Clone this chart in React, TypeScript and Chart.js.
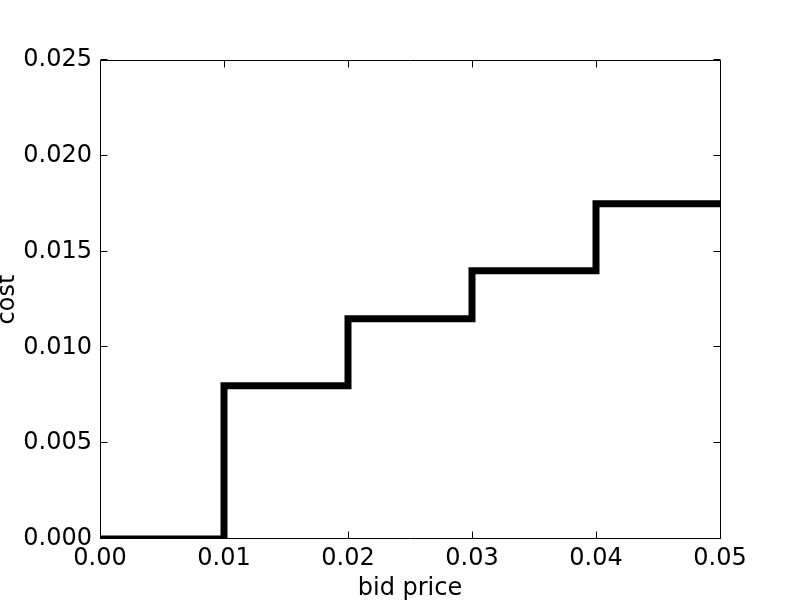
import React, { useEffect, useRef } from "react";
import { Chart, registerables } from "chart.js";
Chart.register(...registerables);

const bidPrices = [0, 0.01, 0.02, 0.03, 0.04, 0.05];
const costs = [0, 0.008, 0.0115, 0.014, 0.0175, 0.0175];
const xTicks = [0, 0.01, 0.02, 0.03, 0.04, 0.05];
const yTicks = [0, 0.005, 0.01, 0.015, 0.02, 0.025];
const xTitle = "bid price";
const yTitle = "cost";

const FONT = "'DejaVu Sans', sans-serif";
const TICK_LEN = 7;

const frameTicks = {
  id: "frameTicks",
  afterDatasetsDraw(chart: any) {
    const { ctx, chartArea, scales } = chart;
    const { left, right, top, bottom } = chartArea;
    const L = Math.round(left) + 0.5;
    const R = Math.round(right) + 0.5;
    const T = Math.round(top) + 0.5;
    const B = Math.round(bottom) - 0.5;
    ctx.save();
    ctx.strokeStyle = "#000";
    ctx.lineWidth = 1;
    ctx.beginPath();
    ctx.rect(L, T, R - L, B - T);
    for (const v of xTicks) {
      const px = Math.round(scales.x.getPixelForValue(v)) + 0.5;
      ctx.moveTo(px, B);
      ctx.lineTo(px, B - TICK_LEN);
      ctx.moveTo(px, T);
      ctx.lineTo(px, T + TICK_LEN);
    }
    for (const v of yTicks) {
      const py = Math.round(scales.y.getPixelForValue(v)) - 0.5;
      ctx.moveTo(L, py);
      ctx.lineTo(L + TICK_LEN, py);
      ctx.moveTo(R, py);
      ctx.lineTo(R - TICK_LEN, py);
    }
    ctx.stroke();
    ctx.restore();
  },
};

export default function App() {
  const ref = useRef<HTMLCanvasElement>(null);
  useEffect(() => {
    if (!ref.current) return;
    const chart = new Chart(ref.current, {
      type: "line",
      data: {
        datasets: [
          {
            data: bidPrices.map((x, i) => ({ x, y: costs[i] })),
            stepped: "before",
            borderColor: "#000",
            borderWidth: 7,
            pointRadius: 0,
            fill: false,
            clip: 0,
          } as any,
        ],
      },
      options: {
        responsive: false,
        animation: false,
        layout: { padding: { top: 60, right: 80, left: 0, bottom: 0 } },
        plugins: { legend: { display: false }, tooltip: { enabled: false } },
        scales: {
          x: {
            type: "linear",
            min: 0,
            max: 0.05,
            afterBuildTicks: (s: any) => {
              s.ticks = xTicks.map((v) => ({ value: v }));
            },
            afterFit: (s: any) => {
              s.height = 61;
            },
            grid: { display: false, drawTicks: false },
            border: { display: false },
            ticks: {
              color: "#000",
              font: { family: FONT, size: 24 },
              padding: 5,
              maxRotation: 0,
              autoSkip: false,
              callback: (v: any) => Number(v).toFixed(2),
            },
            title: {
              display: true,
              text: xTitle,
              color: "#000",
              font: { family: FONT, size: 24, lineHeight: 1 },
              padding: { top: 0, bottom: -1 },
            },
          },
          y: {
            type: "linear",
            min: 0,
            max: 0.025,
            afterBuildTicks: (s: any) => {
              s.ticks = yTicks.map((v) => ({ value: v }));
            },
            afterFit: (s: any) => {
              s.width = 100;
            },
            grid: { display: false, drawTicks: false },
            border: { display: false },
            ticks: {
              color: "#000",
              font: { family: FONT, size: 24 },
              padding: 8,
              autoSkip: false,
              callback: (v: any) => Number(v).toFixed(3),
            },
            title: {
              display: true,
              text: yTitle,
              color: "#000",
              font: { family: FONT, size: 24, lineHeight: 1 },
              padding: { top: -4, bottom: 0 },
            },
          },
        },
      },
      plugins: [frameTicks],
    });
    return () => chart.destroy();
  }, []);
  return (
    <div style={{ position: "absolute", left: 0, top: 0, width: 800, height: 600, background: "#fff" }}>
      <canvas ref={ref} width={800} height={600} />
    </div>
  );
}
